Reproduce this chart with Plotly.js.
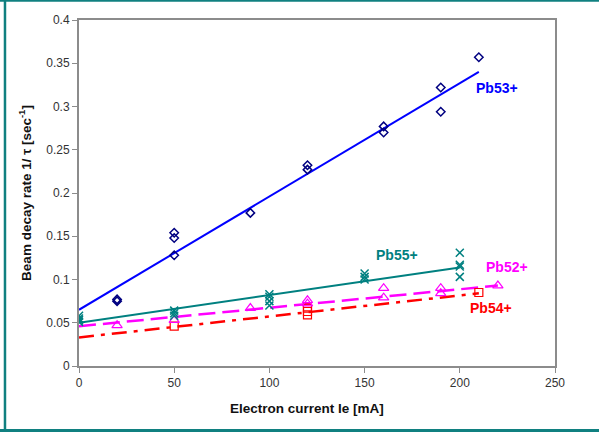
<!DOCTYPE html>
<html>
<head>
<meta charset="utf-8">
<script src="https://cdn.plot.ly/plotly-3.0.1.min.js"></script>
<style>html,body{margin:0;padding:0;background:#fff;}#chart{width:599px;height:432px;}</style>
</head>
<body>
<div id="chart"></div>
<script>
// Pb53+ measured points
const pb53X = [20, 20, 50, 50, 50, 90, 120, 120, 160, 160, 190, 190, 210];
const pb53Y = [0.075, 0.077, 0.154, 0.148, 0.128, 0.177, 0.232, 0.227, 0.277, 0.270, 0.322, 0.294, 0.357];
// Pb55+ measured points
const pb55X = [0, 0, 0, 0, 50, 50, 50, 100, 100, 100, 100, 150, 150, 150, 200, 200, 200, 200];
const pb55Y = [0.058, 0.055, 0.053, 0.051, 0.064, 0.061, 0.058, 0.083, 0.080, 0.075, 0.070, 0.107, 0.103, 0.100, 0.131, 0.117, 0.115, 0.103];
// Pb52+ measured points
const pb52X = [20, 50, 90, 120, 120, 160, 160, 190, 190, 220];
const pb52Y = [0.047, 0.053, 0.067, 0.076, 0.072, 0.090, 0.079, 0.090, 0.084, 0.093];
// Pb54+ measured points
const pb54X = [50, 120, 120, 120, 210];
const pb54Y = [0.046, 0.067, 0.063, 0.059, 0.085];
// Linear fits (end points)
const fit53X = [0, 210], fit53Y = [0.065, 0.340];
const fit55X = [0, 200], fit55Y = [0.050, 0.114];
const fit52X = [0, 220], fit52Y = [0.046, 0.093];
const fit54X = [0, 210], fit54Y = [0.033, 0.084];
// Labels
const labelText = ["Pb53+", "Pb55+", "Pb52+", "Pb54+"];
const labelX = [219.5, 167, 225, 216.5];
const labelY = [0.321, 0.128, 0.115, 0.067];
const labelColor = ["#0000FF", "#008080", "#FF00FF", "#FF0000"];
const xTicks = [0, 50, 100, 150, 200, 250];
const yTicks = [0, 0.05, 0.1, 0.15, 0.2, 0.25, 0.3, 0.35, 0.4];
const xTitle = "Electron current Ie [mA]";
const yTitle = "Beam decay rate 1/ τ [sec<sup>-1</sup>]";

const traces = [
  {x: fit54X, y: fit54Y, mode: 'lines', line: {color: '#FF0000', width: 2.5, dash: '15px,7px,4px,7px'}},
  {x: fit52X, y: fit52Y, mode: 'lines', line: {color: '#FF00FF', width: 2.5, dash: '17px,7px'}},
  {x: fit55X, y: fit55Y, mode: 'lines', line: {color: '#008080', width: 2}},
  {x: fit53X, y: fit53Y, mode: 'lines', line: {color: '#0000FF', width: 2}},
  {x: pb54X, y: pb54Y, mode: 'markers', marker: {symbol: 'square-open', size: 8, color: '#FF0000', line: {width: 1.2}}},
  {x: pb52X, y: pb52Y, mode: 'markers', marker: {symbol: 'triangle-up-open', size: 9, color: '#FF00FF', line: {width: 1.2}}},
  {x: pb55X, y: pb55Y, mode: 'markers', marker: {symbol: 'x-thin-open', size: 8, color: '#008080', line: {width: 1.5, color: '#008080'}}},
  {x: pb53X, y: pb53Y, mode: 'markers', marker: {symbol: 'diamond-open', size: 6.5, color: '#000080', line: {width: 1.5}}}
];

const annotations = labelText.map((t, i) => ({
  x: labelX[i], y: labelY[i], xref: 'x', yref: 'y', text: '<b>' + t + '</b>',
  showarrow: false, font: {family: 'Arial, Liberation Sans', size: 14, color: labelColor[i]}
}));
annotations.push({
  x: 0.479, y: -0.124, xref: 'paper', yref: 'paper', xanchor: 'center', yanchor: 'middle',
  text: '<b>' + xTitle + '</b>', showarrow: false,
  font: {family: 'Arial, Liberation Sans', size: 13.5, color: '#111'}
});

const layout = {
  width: 599, height: 432,
  margin: {l: 79, r: 44, t: 20, b: 66},
  paper_bgcolor: '#ffffff', plot_bgcolor: '#ffffff',
  showlegend: false,
  font: {family: 'Arial, Liberation Sans', size: 12, color: '#333'},
  xaxis: {
    range: [0, 250], tickvals: xTicks, ticktext: xTicks.map(String),
    showgrid: false, zeroline: false, showline: true, linecolor: '#8c8c8c', linewidth: 2,
    mirror: true, ticks: 'outside', ticklen: 5, tickcolor: '#8c8c8c', tickwidth: 1,
    tickfont: {size: 12, color: '#333'}
  },
  yaxis: {
    range: [0, 0.4], tickvals: yTicks, ticktext: yTicks.map(String),
    showgrid: false, zeroline: false, showline: true, linecolor: '#8c8c8c', linewidth: 2,
    mirror: true, ticks: 'outside', ticklen: 5, tickcolor: '#8c8c8c', tickwidth: 1,
    tickfont: {size: 12, color: '#333'},
    title: {text: '<b>' + yTitle + '</b>', font: {size: 13.5, color: '#111'}, standoff: 12}
  },
  annotations: annotations,
  shapes: [
    {type: 'line', xref: 'paper', yref: 'paper', x0: -0.1555, x1: -0.1555, y0: 1.058, y1: -0.19, line: {color: '#108080', width: 2.5}},
    {type: 'line', xref: 'paper', yref: 'paper', x0: -0.17, x1: 1.1, y0: 1.0563, y1: 1.0563, line: {color: '#108080', width: 2.5}},
    {type: 'line', xref: 'paper', yref: 'paper', x0: -0.17, x1: 1.1, y0: -0.1864, y1: -0.1864, line: {color: '#108080', width: 3}}
  ]
};

Plotly.newPlot('chart', traces, layout, {staticPlot: true, displayModeBar: false});
</script>
</body>
</html>
